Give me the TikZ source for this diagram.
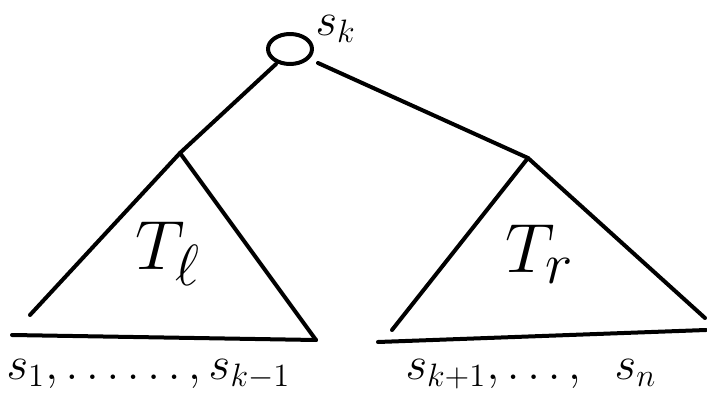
\documentclass[tikz,border=0pt]{standalone}
\usetikzlibrary{shapes.geometric}
\begin{document}
\begin{tikzpicture}[x=1pt,y=-1pt,
  pen/.style={line width=4pt,line cap=round,line join=round,black},
  lbl/.style={font=\LARGE,scale=2.7,inner sep=0pt},
  big/.style={font=\Huge,scale=2.8,inner sep=0pt}]
\useasboundingbox (0,0) rectangle (707,404);
% root
\node[pen,draw,ellipse,minimum width=44pt,minimum height=30pt,inner sep=0pt] (root) at (290,49) {};
\node[lbl,anchor=west] (sk) at (315,29) {$s_k$};
% apices
\coordinate (la) at (180,153);
\coordinate (ra) at (528,158);
\draw[pen] (root.south west) ++(3,3) coordinate (rl) -- (la);
\draw[pen] (318,63) coordinate (rr) -- (ra);
% left triangle
\coordinate (ll) at (30,315);
\coordinate (lr) at (316,340);
\draw[pen] (ll) -- (la) -- (lr);
\coordinate (lb1) at (12,335);
\draw[pen] (lb1) -- (lr);
\node[big] (tl) at (168,254) {$T_\ell$};
\node[lbl,anchor=west] (lseq) at (6,374) {$s_1,\ldots\ldots,s_{k-1}$};
% right triangle
\coordinate (rl2) at (392,330);
\coordinate (rr2) at (705,318);
\draw[pen] (rl2) -- (ra) -- (rr2);
\coordinate (rb1) at (378,342);
\coordinate (rb2) at (706,330);
\draw[pen] (rb1) -- (rb2);
\node[big] (tr) at (540,254) {$T_r$};
\node[lbl,anchor=west] (rseq) at (405,374) {$s_{k+1},\ldots,\;\;s_n$};
\end{tikzpicture}
\end{document}
